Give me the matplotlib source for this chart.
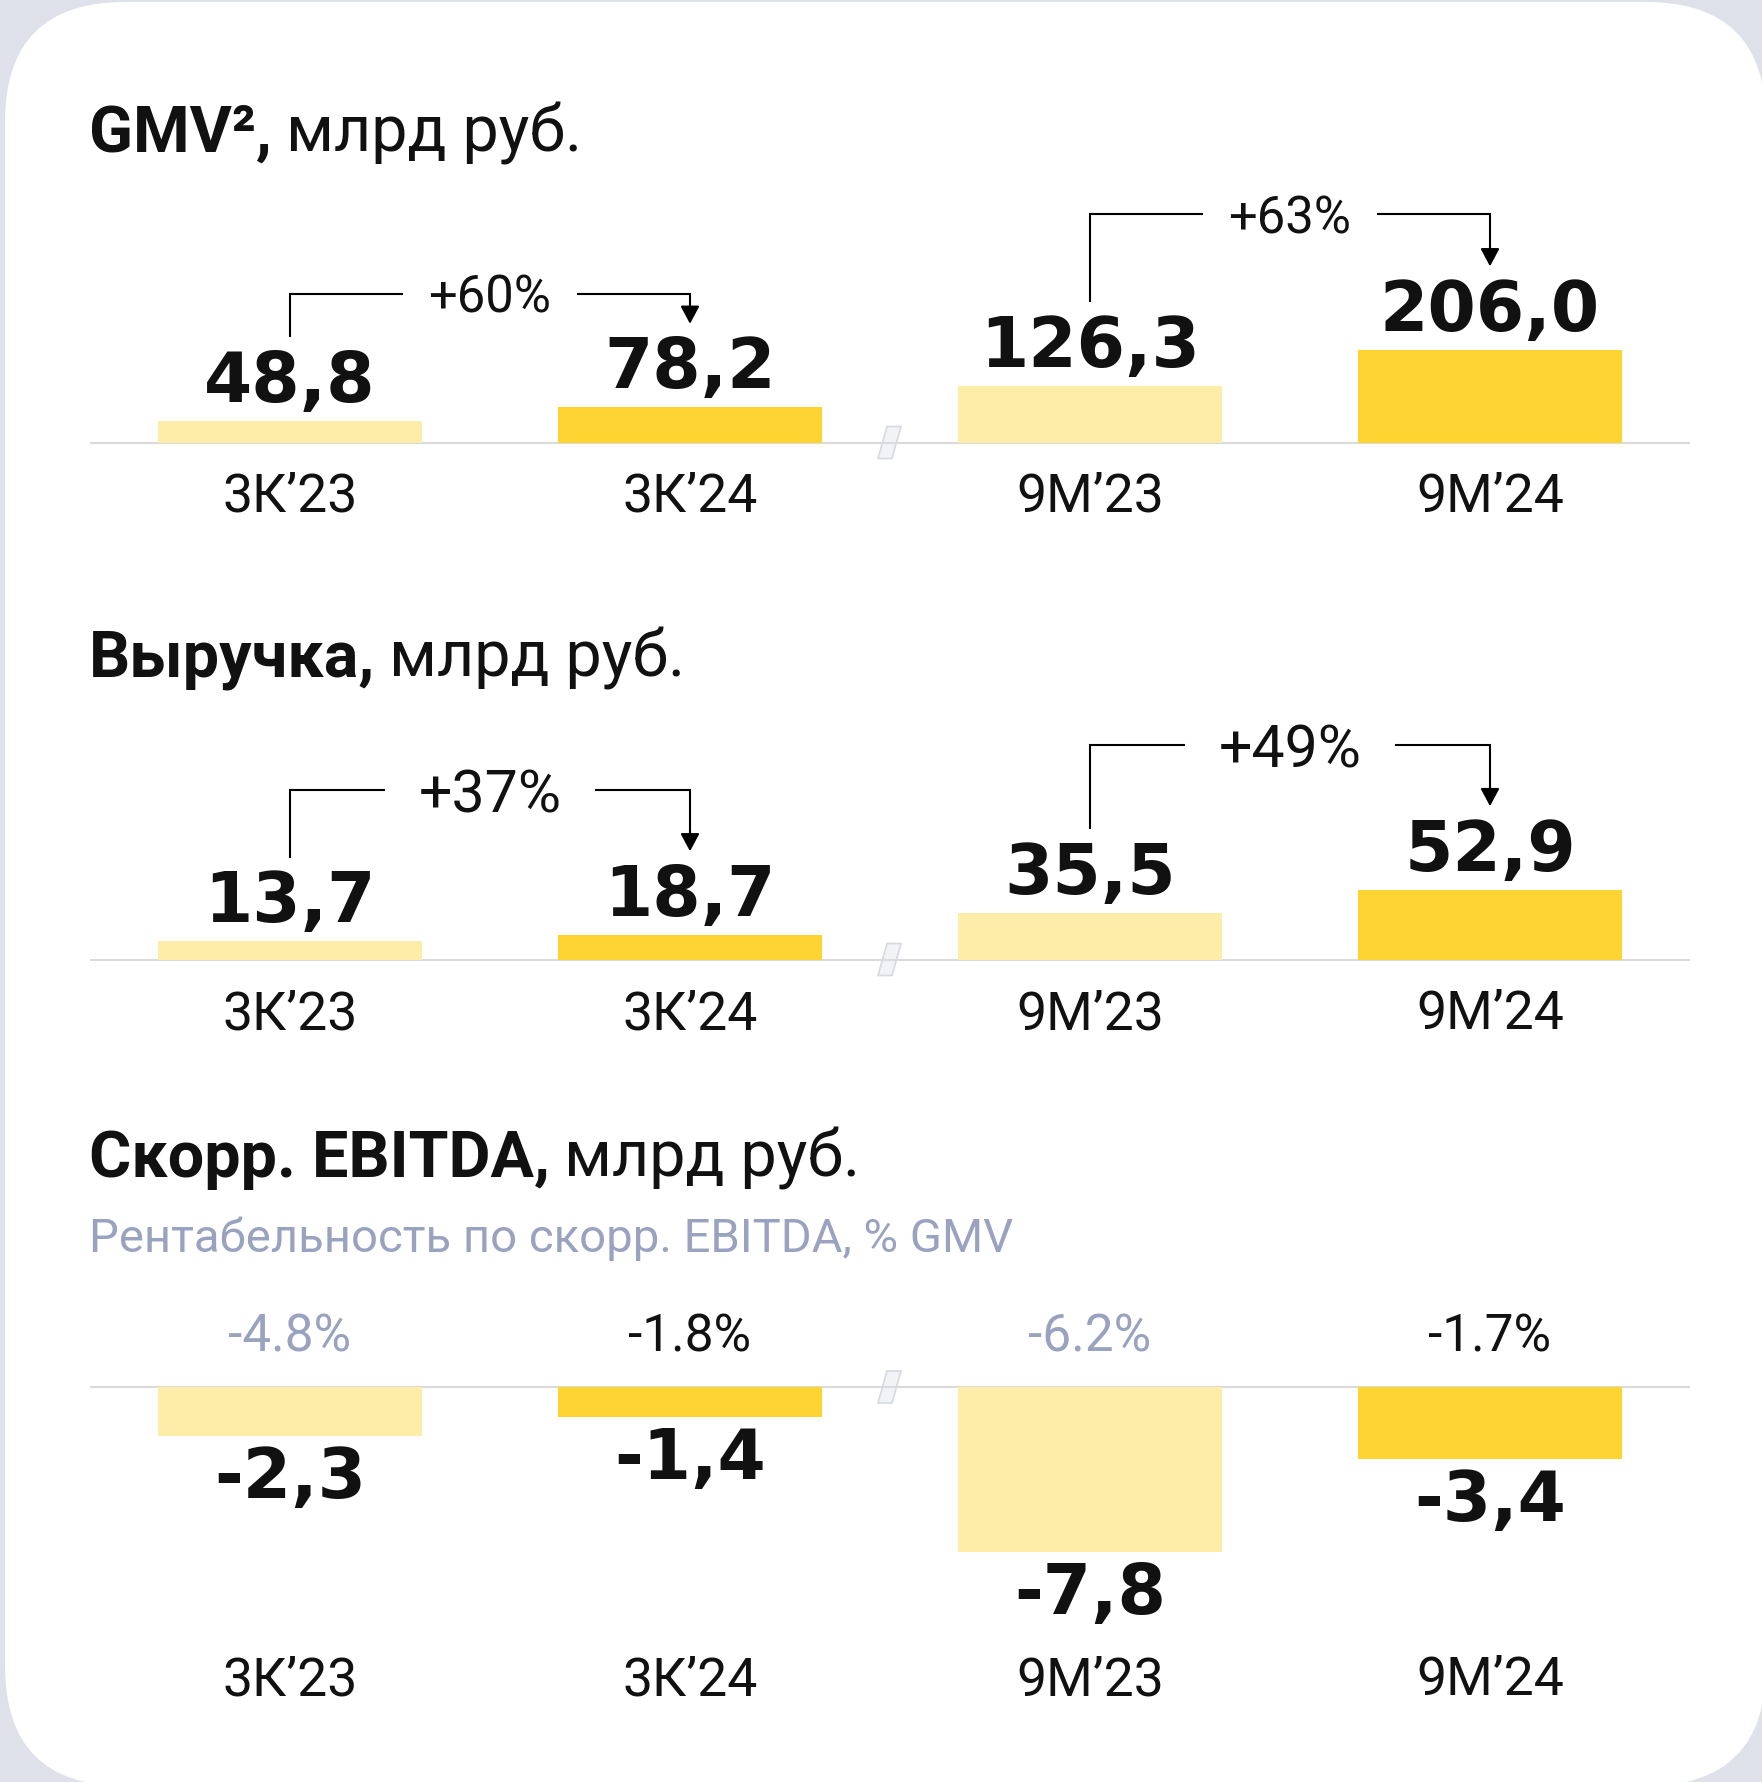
import matplotlib
matplotlib.use("Agg")
import matplotlib.pyplot as plt
from matplotlib.patches import FancyBboxPatch, Polygon

W, H = 1762, 1782
DPI = 100

# data
categories = ["3К’23", "3К’24", "9М’23", "9М’24"]
gmv = [48.8, 78.2, 126.3, 206.0]
gmv_growth = ["+60%", "+63%"]
revenue = [13.7, 18.7, 35.5, 52.9]
revenue_growth = ["+37%", "+49%"]
ebitda = [-2.3, -1.4, -7.8, -3.4]
ebitda_margin = ["-4.8%", "-1.8%", "-6.2%", "-1.7%"]

LIGHT = "#feeda8"
STRONG = "#fdd432"
BAR_COLORS = [LIGHT, STRONG, LIGHT, STRONG]
GREY_TXT = "#99a2bf"
MARGIN_COLORS = [GREY_TXT, "#111111", GREY_TXT, "#111111"]
BG = "#dfe1ea"
BASE_CLR = "#dadada"
SANS = "Roboto"
NUM = "DejaVu Sans"
LABEL_W = "normal"

fig = plt.figure(figsize=(W / DPI, H / DPI), dpi=DPI)
fig.patch.set_facecolor(BG)

bg = fig.add_axes([0, 0, 1, 1])
bg.set_xlim(0, W)
bg.set_ylim(H, 0)
bg.axis("off")
R = 120
bg.add_patch(FancyBboxPatch((5 + R, 2 + R), 1766 - 5 - 2 * R, 1786 - 2 - 2 * R,
                            boxstyle=f"round,pad={R}", fc="white", ec="none"))


def title(y, bold, rest):
    t = bg.text(89, y, bold, fontsize=46.5, fontweight="bold", family=SANS,
                va="baseline", color="#111111")
    bg.annotate(rest, xy=(1, 0), xycoords=t, xytext=(14, 0),
                textcoords="offset pixels", va="bottom", ha="left",
                fontsize=46.5, family=SANS, color="#111111")


def break_mark(base_px, x=889):
    pts = [(x - 11, base_px + 16), (x + 3, base_px + 16),
           (x + 12, base_px - 16), (x - 2, base_px - 16)]
    bg.add_patch(Polygon(pts, closed=True, fc="#f2f3f6", ec="#d6d9e1", lw=1.2, zorder=5))


def panel(top, bottom, base, scale, values):
    ax = fig.add_axes([90 / W, 1 - bottom / H, 1600 / W, (bottom - top) / H])
    ax.set_xlim(-0.5, 3.5)
    ax.set_ylim(-(bottom - base) / scale, (base - top) / scale)
    ax.axis("off")
    ax.patch.set_alpha(0)
    ax.axhline(0, color=BASE_CLR, lw=1.5, zorder=1)
    ax.bar(range(len(values)), values, width=0.66, color=BAR_COLORS, zorder=2)
    for i, v in enumerate(values):
        txt = f"{v:.1f}".replace(".", ",")
        off = 19 if v >= 0 else -62
        ax.annotate(txt, (i, v), xytext=(0, off), textcoords="offset pixels",
                    ha="center", va="baseline", fontsize=50, fontweight="bold",
                    family=NUM, color="#111111")
    return ax


def cat_labels(ax, drop):
    for i, c in enumerate(categories):
        ax.annotate(c, (i, 0), xytext=(0, -drop), textcoords="offset pixels",
                    ha="center", va="baseline", fontsize=38.5, fontweight=LABEL_W,
                    family=SANS, color="#111111")


def connector(ax, i, j, values, label, scale, rise, gap, fs, drop):
    y0 = values[i] + 83.5 / scale
    y1 = values[j] + 83.5 / scale
    lev = max(y0, y1) + rise / scale
    mid = (i + j) / 2
    g = gap / 400
    ax.plot([i, i, mid - g], [y0, lev, lev], color="black", lw=1.5,
            solid_joinstyle="miter", solid_capstyle="butt")
    ax.plot([mid + g, j, j], [lev, lev, y1 + 10 / scale], color="black", lw=1.5,
            solid_joinstyle="miter", solid_capstyle="butt")
    ax.annotate("", xy=(j, y1), xytext=(j, y1 + 20 / scale),
                arrowprops=dict(arrowstyle="-|>,head_length=0.6,head_width=0.32",
                                color="black", lw=1.5, shrinkA=0, shrinkB=0,
                                mutation_scale=18))
    ax.annotate(label, (mid, lev), xytext=(0, -drop), textcoords="offset pixels",
                ha="center", va="baseline", fontsize=fs, fontweight=LABEL_W,
                family=SANS, color="#111111")


# GMV
title(152, "GMV²,", "млрд руб.")
s_gmv = 0.45
ax1 = panel(160, 540, 442.5, s_gmv, gmv)
cat_labels(ax1, 69.5)
connector(ax1, 0, 1, gmv, gmv_growth[0], s_gmv, 30, 87, 36.5, 19)
connector(ax1, 2, 3, gmv, gmv_growth[1], s_gmv, 52, 87, 36.5, 19)
break_mark(442.5)

# Revenue
title(676, "Выручка,", "млрд руб.")
s_rev = 1.32
ax2 = panel(690, 1050, 959.5, s_rev, revenue)
cat_labels(ax2, 69.5)
connector(ax2, 0, 1, revenue, revenue_growth[0], s_rev, 61, 105, 42.5, 22)
connector(ax2, 2, 3, revenue, revenue_growth[1], s_rev, 61, 105, 42.5, 22)
break_mark(959.5)

# Adjusted EBITDA
title(1177, "Скорр. EBITDA,", "млрд руб.")
bg.text(89, 1252, "Рентабельность по скорр. EBITDA, % GMV", fontsize=34,
        fontweight=LABEL_W, family=SANS, color=GREY_TXT, va="baseline")
s_eb = 21.1
ax3 = panel(1280, 1720, 1387, s_eb, ebitda)
cat_labels(ax3, 1695 - 1387)
for i, m in enumerate(ebitda_margin):
    ax3.annotate(m, (i, 0), xytext=(0, 35), textcoords="offset pixels",
                 ha="center", va="baseline", fontsize=37, fontweight=LABEL_W,
                 family=SANS, color=MARGIN_COLORS[i])
break_mark(1387)

fig.savefig("out.png", dpi=DPI, facecolor=BG)
